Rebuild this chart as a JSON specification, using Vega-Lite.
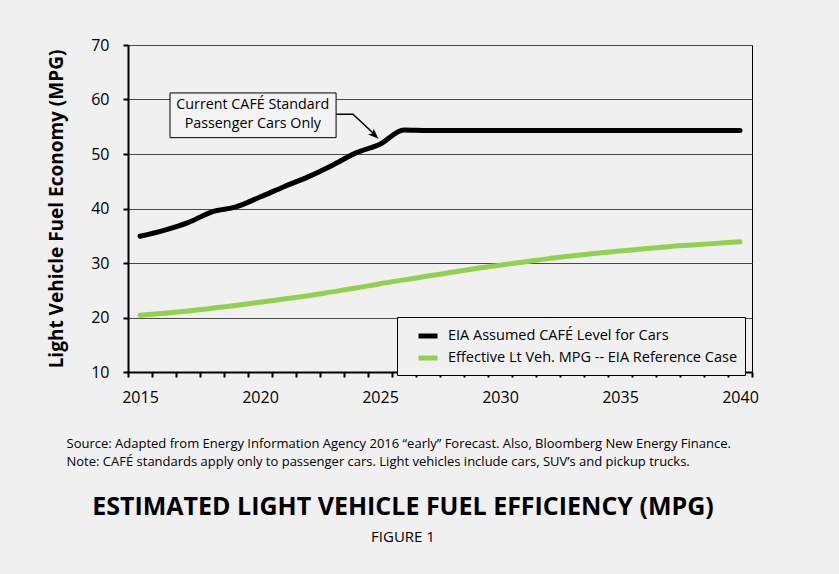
{
  "$schema": "https://vega.github.io/schema/vega-lite/v6.json",
  "width": 624,
  "height": 327,
  "autosize": {"type": "none"},
  "padding": {"left": 128, "top": 45, "right": 87, "bottom": 202},
  "background": "#f0f0f0",
  "config": {
    "font": "Open Sans",
    "view": {"stroke": "#000", "strokeWidth": 1},
    "legend": {
      "orient": "none", "legendX": 269, "legendY": 272, "title": null,
      "strokeColor": "#000", "fillColor": "#f0f0f0", "padding": 7,
      "labelFontSize": 14.5, "labelColor": "#000", "labelFont": "Open Sans", "labelLimit": 500,
      "symbolType": "stroke", "symbolStrokeWidth": 5, "symbolSize": 361,
      "rowPadding": 0, "labelOffset": 8, "symbolOffset": 12
    }
  },
  "title": {
    "text": "ESTIMATED LIGHT VEHICLE FUEL EFFICIENCY (MPG)",
    "subtitle": "FIGURE 1",
    "orient": "bottom", "anchor": "middle", "frame": "group", "dx": -37, "offset": 27,
    "fontSize": 25, "fontWeight": "bold", "font": "Open Sans", "color": "#000",
    "subtitleFontSize": 15, "subtitleColor": "#000", "subtitleFont": "Open Sans", "subtitlePadding": 10
  },
  "encoding": {
    "x": {
      "field": "x", "type": "quantitative",
      "scale": {"domain": [2014.5, 2040.5], "nice": false, "zero": false},
      "axis": {
        "values": [2014.5,2015,2015.5,2016.5,2017.5,2018.5,2019.5,2020,2020.5,2021.5,2022.5,2023.5,2024.5,2025,2025.5,2026.5,2027.5,2028.5,2029.5,2030,2030.5,2031.5,2032.5,2033.5,2034.5,2035,2035.5,2036.5,2037.5,2038.5,2039.5,2040,2040.5],
        "labelExpr": "datum.value % 1 == 0 ? format(datum.value, 'd') : ''",
        "tickOpacity": {"condition": {"test": "datum.value % 1 == 0", "value": 0}, "value": 1},
        "grid": false, "domainColor": "#000", "domainWidth": 2,
        "tickColor": "#000", "tickWidth": 2, "tickSize": 5,
        "labelFontSize": 16, "labelColor": "#000", "labelPadding": 12,
        "labelOverlap": false, "labelFlush": false,
        "title": ["Source: Adapted from Energy Information Agency 2016 \u201cearly\u201d Forecast. Also, Bloomberg New Energy Finance.", "Note: CAF\u00c9 standards apply only to passenger cars. Light vehicles include cars, SUV\u2019s and pickup trucks."],
        "titleAnchor": "start", "titleAlign": "left", "titleX": -62, "titleY": 71,
        "titleBaseline": "middle", "titleFontSize": 13, "titleFontWeight": "normal",
        "titleColor": "#000", "titleLineHeight": 18
      }
    },
    "y": {
      "field": "y", "type": "quantitative",
      "scale": {"domain": [10, 70], "nice": false, "zero": false},
      "axis": {
        "values": [10,20,30,40,50,60,70],
        "grid": true, "gridColor": "#4a4a4a", "gridWidth": 1,
        "domainColor": "#000", "domainWidth": 2,
        "tickColor": "#000", "tickWidth": 2, "tickSize": 5,
        "labelFontSize": 16, "labelColor": "#000", "labelPadding": 14,
        "title": "Light Vehicle Fuel Economy (MPG)", "titleFontSize": 19,
        "titleFontWeight": "bold", "titleColor": "#000", "titlePadding": 24
      }
    }
  },
  "layer": [
    {
      "data": {"values": [{"x": 2016.25, "x2": 2023.17, "y": 61.2, "y2": 53.0}]},
      "mark": {"type": "rect", "fill": "#f3f3f3", "stroke": "#000", "strokeWidth": 1},
      "encoding": {"x2": {"field": "x2"}, "y2": {"field": "y2"}}
    },
    {
      "data": {"values": [
        {"x": 2019.7, "y": 58.9, "t": "Current CAF\u00c9 Standard"},
        {"x": 2019.7, "y": 55.45, "t": "Passenger Cars Only"}
      ]},
      "mark": {"type": "text", "fontSize": 14.3, "font": "Open Sans", "color": "#000"},
      "encoding": {"text": {"field": "t"}}
    },
    {
      "data": {"values": [
        {"x": 2023.17, "y": 57.3, "o": 1},
        {"x": 2023.875, "y": 57.3, "o": 2},
        {"x": 2024.8, "y": 53.5, "o": 3}
      ]},
      "mark": {"type": "line", "color": "#000", "strokeWidth": 1.5},
      "encoding": {"order": {"field": "o"}}
    },
    {
      "data": {"values": [{"x": 2024.78, "y": 53.45}]},
      "mark": {"type": "point", "shape": "M-1,-0.75L1,0L-1,0.75L-0.55,0Z", "filled": true, "color": "#000", "opacity": 1, "size": 110, "angle": 44},
      "encoding": {}
    },
    {
      "data": {"values": [
        {"x": 2015, "y": 34.9, "s": "EIA Assumed CAF\u00c9 Level for Cars"},
        {"x": 2016, "y": 36.0, "s": "EIA Assumed CAF\u00c9 Level for Cars"},
        {"x": 2017, "y": 37.4, "s": "EIA Assumed CAF\u00c9 Level for Cars"},
        {"x": 2018, "y": 39.4, "s": "EIA Assumed CAF\u00c9 Level for Cars"},
        {"x": 2019, "y": 40.3, "s": "EIA Assumed CAF\u00c9 Level for Cars"},
        {"x": 2020, "y": 42.1, "s": "EIA Assumed CAF\u00c9 Level for Cars"},
        {"x": 2021, "y": 44.0, "s": "EIA Assumed CAF\u00c9 Level for Cars"},
        {"x": 2022, "y": 45.8, "s": "EIA Assumed CAF\u00c9 Level for Cars"},
        {"x": 2023, "y": 47.9, "s": "EIA Assumed CAF\u00c9 Level for Cars"},
        {"x": 2024, "y": 50.2, "s": "EIA Assumed CAF\u00c9 Level for Cars"},
        {"x": 2025, "y": 51.8, "s": "EIA Assumed CAF\u00c9 Level for Cars"},
        {"x": 2026, "y": 54.4, "s": "EIA Assumed CAF\u00c9 Level for Cars"},
        {"x": 2027, "y": 54.3, "s": "EIA Assumed CAF\u00c9 Level for Cars"},
        {"x": 2028, "y": 54.3, "s": "EIA Assumed CAF\u00c9 Level for Cars"},
        {"x": 2029, "y": 54.3, "s": "EIA Assumed CAF\u00c9 Level for Cars"},
        {"x": 2030, "y": 54.3, "s": "EIA Assumed CAF\u00c9 Level for Cars"},
        {"x": 2031, "y": 54.3, "s": "EIA Assumed CAF\u00c9 Level for Cars"},
        {"x": 2032, "y": 54.3, "s": "EIA Assumed CAF\u00c9 Level for Cars"},
        {"x": 2033, "y": 54.3, "s": "EIA Assumed CAF\u00c9 Level for Cars"},
        {"x": 2034, "y": 54.3, "s": "EIA Assumed CAF\u00c9 Level for Cars"},
        {"x": 2035, "y": 54.3, "s": "EIA Assumed CAF\u00c9 Level for Cars"},
        {"x": 2036, "y": 54.3, "s": "EIA Assumed CAF\u00c9 Level for Cars"},
        {"x": 2037, "y": 54.3, "s": "EIA Assumed CAF\u00c9 Level for Cars"},
        {"x": 2038, "y": 54.3, "s": "EIA Assumed CAF\u00c9 Level for Cars"},
        {"x": 2039, "y": 54.3, "s": "EIA Assumed CAF\u00c9 Level for Cars"},
        {"x": 2040, "y": 54.3, "s": "EIA Assumed CAF\u00c9 Level for Cars"},
        {"x": 2015, "y": 20.4, "s": "Effective Lt Veh. MPG -- EIA Reference Case"},
        {"x": 2016, "y": 20.8, "s": "Effective Lt Veh. MPG -- EIA Reference Case"},
        {"x": 2017, "y": 21.2, "s": "Effective Lt Veh. MPG -- EIA Reference Case"},
        {"x": 2018, "y": 21.7, "s": "Effective Lt Veh. MPG -- EIA Reference Case"},
        {"x": 2019, "y": 22.2, "s": "Effective Lt Veh. MPG -- EIA Reference Case"},
        {"x": 2020, "y": 22.8, "s": "Effective Lt Veh. MPG -- EIA Reference Case"},
        {"x": 2021, "y": 23.4, "s": "Effective Lt Veh. MPG -- EIA Reference Case"},
        {"x": 2022, "y": 24.0, "s": "Effective Lt Veh. MPG -- EIA Reference Case"},
        {"x": 2023, "y": 24.7, "s": "Effective Lt Veh. MPG -- EIA Reference Case"},
        {"x": 2024, "y": 25.4, "s": "Effective Lt Veh. MPG -- EIA Reference Case"},
        {"x": 2025, "y": 26.2, "s": "Effective Lt Veh. MPG -- EIA Reference Case"},
        {"x": 2026, "y": 26.9, "s": "Effective Lt Veh. MPG -- EIA Reference Case"},
        {"x": 2027, "y": 27.6, "s": "Effective Lt Veh. MPG -- EIA Reference Case"},
        {"x": 2028, "y": 28.3, "s": "Effective Lt Veh. MPG -- EIA Reference Case"},
        {"x": 2029, "y": 29.0, "s": "Effective Lt Veh. MPG -- EIA Reference Case"},
        {"x": 2030, "y": 29.6, "s": "Effective Lt Veh. MPG -- EIA Reference Case"},
        {"x": 2031, "y": 30.2, "s": "Effective Lt Veh. MPG -- EIA Reference Case"},
        {"x": 2032, "y": 30.8, "s": "Effective Lt Veh. MPG -- EIA Reference Case"},
        {"x": 2033, "y": 31.3, "s": "Effective Lt Veh. MPG -- EIA Reference Case"},
        {"x": 2034, "y": 31.8, "s": "Effective Lt Veh. MPG -- EIA Reference Case"},
        {"x": 2035, "y": 32.2, "s": "Effective Lt Veh. MPG -- EIA Reference Case"},
        {"x": 2036, "y": 32.6, "s": "Effective Lt Veh. MPG -- EIA Reference Case"},
        {"x": 2037, "y": 33.0, "s": "Effective Lt Veh. MPG -- EIA Reference Case"},
        {"x": 2038, "y": 33.3, "s": "Effective Lt Veh. MPG -- EIA Reference Case"},
        {"x": 2039, "y": 33.6, "s": "Effective Lt Veh. MPG -- EIA Reference Case"},
        {"x": 2040, "y": 33.9, "s": "Effective Lt Veh. MPG -- EIA Reference Case"}
      ]},
      "mark": {"type": "line", "strokeWidth": 5, "interpolate": "monotone", "strokeCap": "round"},
      "encoding": {
        "color": {
          "field": "s", "type": "nominal",
          "scale": {"domain": ["EIA Assumed CAF\u00c9 Level for Cars", "Effective Lt Veh. MPG -- EIA Reference Case"], "range": ["#000000", "#92d050"]}
        }
      }
    }
  ]
}
